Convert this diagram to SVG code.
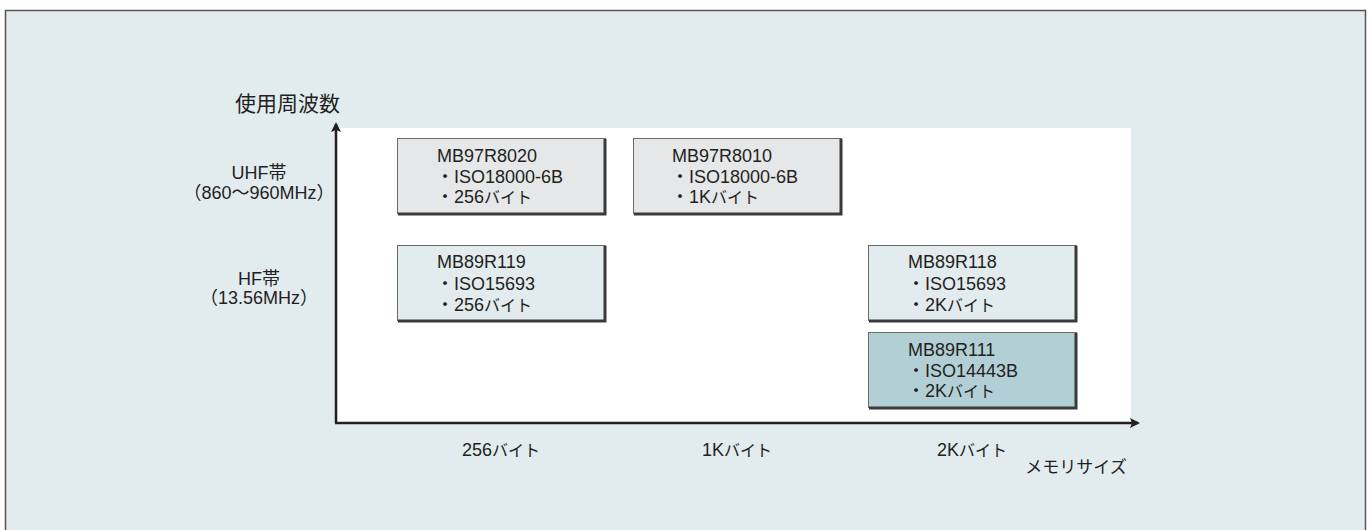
<svg xmlns="http://www.w3.org/2000/svg" width="1371" height="530" viewBox="0 0 1371 530">
<style>
text{font-family:"Liberation Sans","Noto Sans CJK JP",sans-serif;fill:#231f20}
.t{font-size:18px}
.ax{font-size:18px}
.k{font-size:16px}
.kx{font-size:16px}
.big{font-size:21px}
.mem{font-size:17px}
.box{stroke:#6a6a6a;stroke-width:1}
.sh{fill:none;stroke:#3a3a3a;stroke-width:3}
.gray{fill:#e6e7e8}
.lite{fill:#e2ebee}
.teal{fill:#b3cfd6}
.axis{stroke:#231f20;stroke-width:2.5;fill:none}
</style>
<defs>
<marker id="ah" markerWidth="10" markerHeight="10" refX="8" refY="5" orient="auto" markerUnits="userSpaceOnUse">
<path d="M0,0 L10,5 L0,10 L2,5 Z" fill="#231f20"/>
</marker>
</defs>
<rect x="5.5" y="10.5" width="1360" height="530" fill="#e2ebee" stroke="#555" stroke-width="1.5"/>
<rect x="336" y="128" width="795" height="295" fill="#ffffff"/>
<g id="connectors">
<path class="axis" d="M336,423 V124" marker-end="url(#ah)"/>
<path class="axis" d="M335,423 H1138" marker-end="url(#ah)"/>
</g>
<g id="ylabel"><text class="big" x="340" y="111" text-anchor="end">使用周波数</text></g>
<g id="uhf">
<text class="ax" x="259" y="179" text-anchor="middle">UHF帯</text>
<text class="ax" x="259" y="199" text-anchor="middle">（860〜960MHz）</text>
</g>
<g id="hf">
<text class="ax" x="259" y="285" text-anchor="middle">HF帯</text>
<text class="ax" x="259" y="304" text-anchor="middle">（13.56MHz）</text>
</g>
<g id="x256"><text class="ax" x="501" y="456" text-anchor="middle">256<tspan class="kx">バイト</tspan></text></g>
<g id="x1k"><text class="ax" x="737" y="456" text-anchor="middle">1K<tspan class="kx">バイト</tspan></text></g>
<g id="x2k"><text class="ax" x="972" y="456" text-anchor="middle">2K<tspan class="kx">バイト</tspan></text></g>
<g id="xlabel"><text class="mem" x="1076" y="473" text-anchor="middle">メモリサイズ</text></g>
<g id="n8020">
<rect class="box gray" x="397.5" y="138.5" width="208" height="75"/>
<path class="sh" d="M605,139 V214 H398"/>
<text class="t" x="437" y="162">MB97R8020</text>
<text class="t" x="436" y="183">・ISO18000-6B</text>
<text class="t" x="436" y="203">・256<tspan class="k">バイト</tspan></text>
</g>
<g id="n8010">
<rect class="box gray" x="633.5" y="138.5" width="208" height="75"/>
<path class="sh" d="M841,139 V214 H634"/>
<text class="t" x="672" y="162">MB97R8010</text>
<text class="t" x="671" y="183">・ISO18000-6B</text>
<text class="t" x="671" y="203">・1K<tspan class="k">バイト</tspan></text>
</g>
<g id="n119">
<rect class="box lite" x="397.5" y="245.5" width="208" height="75"/>
<path class="sh" d="M605,246 V321 H398"/>
<text class="t" x="437" y="268">MB89R119</text>
<text class="t" x="436" y="290">・ISO15693</text>
<text class="t" x="436" y="311">・256<tspan class="k">バイト</tspan></text>
</g>
<g id="n118">
<rect class="box lite" x="868.5" y="245.5" width="208" height="75"/>
<path class="sh" d="M1076,246 V321 H869"/>
<text class="t" x="908" y="268">MB89R118</text>
<text class="t" x="907" y="290">・ISO15693</text>
<text class="t" x="907" y="311">・2K<tspan class="k">バイト</tspan></text>
</g>
<g id="n111">
<rect class="box teal" x="868.5" y="332.5" width="208" height="75"/>
<path class="sh" d="M1076,333 V408 H869"/>
<text class="t" x="908" y="356">MB89R111</text>
<text class="t" x="907" y="377">・ISO14443B</text>
<text class="t" x="907" y="397">・2K<tspan class="k">バイト</tspan></text>
</g>
</svg>
